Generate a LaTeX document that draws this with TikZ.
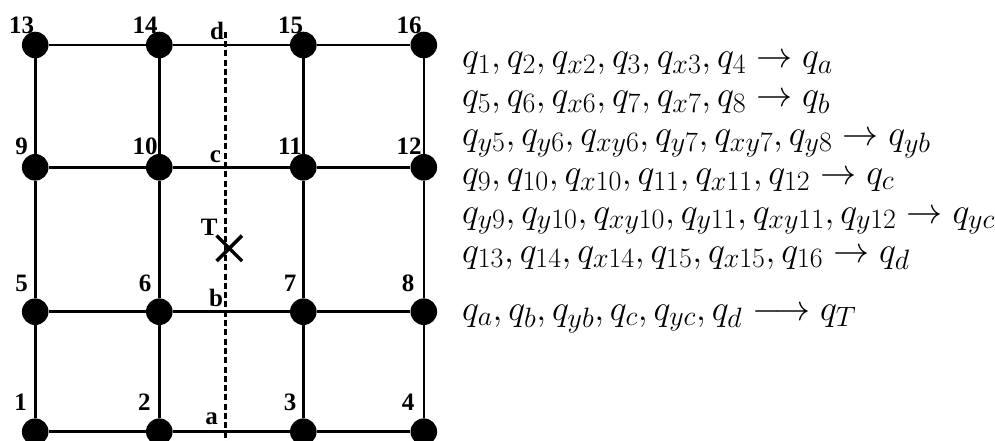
\RequirePackage{fix-cm}
\documentclass[tikz,border=0pt]{standalone}
\usepackage{fontspec}
\DeclareMathSizes{36}{36}{28}{20}
\newfontfamily\labfont{Liberation Serif}
\usetikzlibrary{shapes.misc}
\begin{document}
\begin{tikzpicture}[x=1pt,y=-1pt,
  dot/.style={circle,fill=black,inner sep=0pt,minimum size=26.6pt},
  gridline/.style={line width=2.6pt},
  dashline/.style={line width=2.8pt,dash pattern=on 6pt off 3.3pt},
  numlab/.style={font=\labfont\bfseries\fontsize{25}{25}\selectfont,anchor=base,inner sep=0pt},
  eqn/.style={anchor=base west,inner sep=0pt,text height=20pt,text depth=8pt,font=\fontsize{36}{42}\selectfont},
  crossmark/.style={cross out,draw,line width=3.4pt,minimum size=22pt,inner sep=0pt}]
\useasboundingbox (0,0) rectangle (995,441);
% grid nodes
\node[dot] (n1) at (35.2,431.7) {};
\node[dot] (n2) at (159.3,431.7) {};
\node[dot] (n3) at (303.3,431.7) {};
\node[dot] (n4) at (423.8,431.7) {};
\node[dot] (n5) at (35.2,311.7) {};
\node[dot] (n6) at (159.3,311.7) {};
\node[dot] (n7) at (303.3,311.7) {};
\node[dot] (n8) at (423.8,311.7) {};
\node[dot] (n9) at (35.2,167.3) {};
\node[dot] (n10) at (159.3,167.3) {};
\node[dot] (n11) at (303.3,167.3) {};
\node[dot] (n12) at (423.8,167.3) {};
\node[dot] (n13) at (35.2,45) {};
\node[dot] (n14) at (159.3,45) {};
\node[dot] (n15) at (303.3,45) {};
\node[dot] (n16) at (423.8,45) {};
% grid lines
\draw[gridline] (n1) -- (n2); \draw[gridline] (n2) -- (n3); \draw[gridline] (n3) -- (n4);
\draw[gridline] (n5) -- (n6); \draw[gridline] (n6) -- (n7); \draw[gridline] (n7) -- (n8);
\draw[gridline] (n9) -- (n10); \draw[gridline] (n10) -- (n11); \draw[gridline] (n11) -- (n12);
\draw[gridline] (n13) -- (n14); \draw[gridline] (n14) -- (n15); \draw[gridline] (n15) -- (n16);
\draw[gridline] (n1) -- (n5); \draw[gridline] (n5) -- (n9); \draw[gridline] (n9) -- (n13);
\draw[gridline] (n2) -- (n6); \draw[gridline] (n6) -- (n10); \draw[gridline] (n10) -- (n14);
\draw[gridline] (n3) -- (n7); \draw[gridline] (n7) -- (n11); \draw[gridline] (n11) -- (n15);
\draw[gridline] (n4) -- (n8); \draw[gridline] (n8) -- (n12); \draw[gridline] (n12) -- (n16);
% dashed line
\coordinate (dtop) at (225.8,31.7);
\coordinate (dbot) at (225.8,448);
\draw[dashline] (dtop) -- (dbot);
% target
\node[crossmark] (tx) at (229.3,248.3) {};
\node[numlab] (tl) at (209.3,235) {T};
% node labels
\node[numlab] (l13) at (21.7,33.3) {13};
\node[numlab] (l14) at (145,33.3) {14};
\node[numlab] (l15) at (290.7,33.3) {15};
\node[numlab] (l16) at (409,33.3) {16};
\node[numlab] (l9) at (21.7,154) {9};
\node[numlab] (l10) at (145,154) {10};
\node[numlab] (l11) at (290,154) {11};
\node[numlab] (l12) at (409,154) {12};
\node[numlab] (l5) at (21.7,291.7) {5};
\node[numlab] (l6) at (145,291.7) {6};
\node[numlab] (l7) at (290,291.7) {7};
\node[numlab] (l8) at (408,291.7) {8};
\node[numlab] (l1) at (20.7,410.7) {1};
\node[numlab] (l2) at (144.3,410.7) {2};
\node[numlab] (l3) at (290,410.7) {3};
\node[numlab] (l4) at (408,410.7) {4};
% segment letters
\node[numlab] (ld) at (217,40) {d};
\node[numlab] (lc) at (215.5,162) {c};
\node[numlab] (lb) at (216,306.7) {b};
\node[numlab] (la) at (211.5,424) {a};
% equations
\node[eqn] (e1) at (462,68) {$q_1, q_2, q_{x2}, q_3, q_{x3}, q_4 \to q_a$};
\node[eqn] (e2) at (462,106.8) {$q_5, q_6, q_{x6}, q_7, q_{x7}, q_8 \to q_b$};
\node[eqn] (e3) at (462,145.6) {$q_{y5}, q_{y6}, q_{xy6}, q_{y7}, q_{xy7}, q_{y8} \to q_{yb}$};
\node[eqn] (e4) at (462,184.4) {$q_9, q_{10}, q_{x10}, q_{11}, q_{x11}, q_{12} \to q_c$};
\node[eqn] (e5) at (462,223.2) {$q_{y9}, q_{y10}, q_{xy10}, q_{y11}, q_{xy11}, q_{y12} \to q_{yc}$};
\node[eqn] (e6) at (462,262) {$q_{13}, q_{14}, q_{x14}, q_{15}, q_{x15}, q_{16} \to q_d$};
\node[eqn] (e7) at (462,320) {$q_a, q_b, q_{yb}, q_c, q_{yc}, q_d \longrightarrow q_T$};
\end{tikzpicture}
\end{document}
